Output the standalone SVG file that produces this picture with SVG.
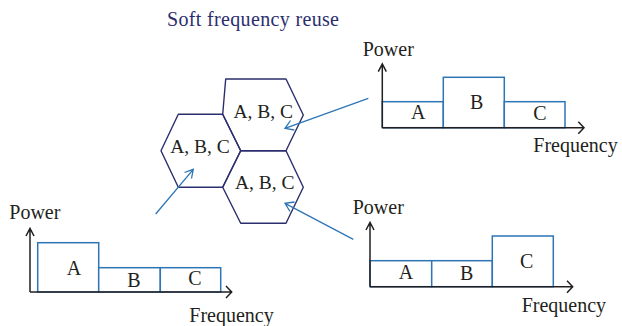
<svg xmlns="http://www.w3.org/2000/svg" width="622" height="326" viewBox="0 0 622 326">
<defs>
<style>
.t{font-family:"Liberation Serif","Times New Roman",serif;font-size:20px;fill:#231f20}
.h{font-size:19.5px}
.c{text-anchor:middle}
.hex{fill:none;stroke:#2b2e6e;stroke-width:1.4;stroke-linejoin:round}
.ax{fill:none;stroke:#231f20;stroke-width:1.5}
.bar{fill:#fff;stroke:#2e75b6;stroke-width:1.5}
.arr{fill:none;stroke:#2e75b6;stroke-width:1.3}
</style>
</defs>
<rect width="622" height="326" fill="#fff"/>
<text class="t" x="167" y="26" style="fill:#2b2e6e" textLength="172">Soft frequency reuse</text>

<g id="hex-left">
<polygon class="hex" points="178.3,114.3 222.7,114.3 240.7,150.7 222.7,187.3 178.3,187.3 161,150.7"/>
<text class="t h c" x="200" y="153.3">A, B, C</text>
</g>
<g id="hex-top">
<polygon class="hex" points="225.7,79 286,79 303.3,115 286,150.7 240.7,150.7 222.7,114.3"/>
<text class="t h c" x="263.3" y="117.7">A, B, C</text>
</g>
<g id="hex-bottom">
<polygon class="hex" points="240.7,150.7 286,150.7 303.3,187.3 286,223.3 240.7,223.3 222.7,187.3"/>
<text class="t h c" x="264.7" y="189">A, B, C</text>
</g>

<g id="connectors">
<path class="arr" d="M155.7,214 L193.3,169.3 M184.5,172.5 L193.3,169.3 L191.5,178.5"/>
<path class="arr" d="M368.3,98.3 L285,128.3 M290.5,120.5 L285,128.3 L294.3,130"/>
<path class="arr" d="M353.3,239.3 L285,203.3 M294.5,202 L285,203.3 L290,211.5"/>
</g>

<g id="panel-top-right">
<text class="t" x="362.7" y="56">Power</text>
<rect class="bar" x="382.3" y="101.7" width="61" height="26"/>
<rect class="bar" x="443.3" y="77.3" width="61" height="50.4"/>
<rect class="bar" x="504.3" y="101.7" width="60.7" height="26"/>
<path class="ax" d="M382.3,127.7 V64 M378.3,71.7 L382.3,64 L386.3,71.7 M382.3,127.7 H584 M578.3,121.7 L584,127.7 L578.3,133.7"/>
<text class="t c" x="418.3" y="119">A</text>
<text class="t c" x="476.7" y="109.3">B</text>
<text class="t c" x="540" y="120">C</text>
<text class="t" x="533.3" y="151.5">Frequency</text>
</g>

<g id="panel-bottom-left">
<text class="t" x="9.3" y="219">Power</text>
<rect class="bar" x="37.7" y="242.7" width="61" height="49.3"/>
<rect class="bar" x="98.7" y="267.7" width="61.6" height="24.3"/>
<rect class="bar" x="160.3" y="267.7" width="60.4" height="24.3"/>
<path class="ax" d="M30,292 V228.3 M26,236 L30,228.3 L34,236 M30,292 H231.7 M226,286 L231.7,292 L226,298"/>
<text class="t c" x="74" y="275">A</text>
<text class="t c" x="134" y="287.3">B</text>
<text class="t c" x="195" y="285">C</text>
<text class="t" x="189.3" y="321.5">Frequency</text>
</g>

<g id="panel-bottom-right">
<text class="t" x="352.7" y="214">Power</text>
<rect class="bar" x="370" y="260.7" width="61.7" height="26"/>
<rect class="bar" x="431.7" y="260.7" width="60.6" height="26"/>
<rect class="bar" x="492.3" y="236" width="61" height="50.7"/>
<path class="ax" d="M370,286.7 V222.3 M366,230 L370,222.3 L374,230 M370,286.7 H572.7 M567,280.7 L572.7,286.7 L567,292.7"/>
<text class="t c" x="406" y="279.3">A</text>
<text class="t c" x="466.7" y="280">B</text>
<text class="t c" x="526.7" y="268.3">C</text>
<text class="t" x="521.7" y="311.5">Frequency</text>
</g>
</svg>
